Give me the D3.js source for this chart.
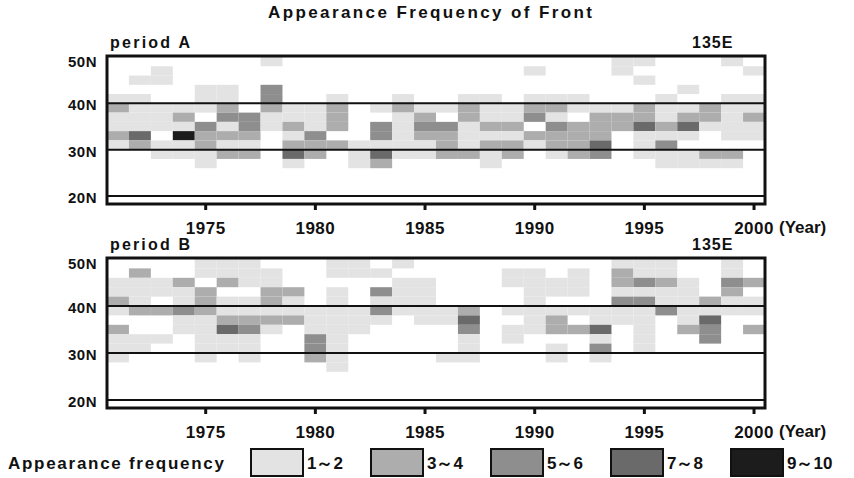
<!DOCTYPE html>
<html lang="en">
<head>
    <meta charset="UTF-8">
    <title>Appearance Frequency of Front</title>
    <style>
        body {
            margin: 0;
            background: #fff;
        }

        svg text {
            font-family: "Liberation Sans", Arial, sans-serif;
            font-weight: bold;
            fill: #111;
        }

        .frame {
            fill: none;
            stroke: #111;
            stroke-width: 3;
        }

        .lat-line {
            stroke: #111;
            stroke-width: 2;
        }
    </style>
</head>
<body>
    <svg id="chart" width="854" height="478"></svg>

    <script src="https://d3js.org/d3.v7.min.js"></script>
    <script>
        // years on the x axis
        const years = [1971, 1972, 1973, 1974, 1975, 1976, 1977, 1978, 1979, 1980,
            1981, 1982, 1983, 1984, 1985, 1986, 1987, 1988, 1989, 1990,
            1991, 1992, 1993, 1994, 1995, 1996, 1997, 1998, 1999, 2000];
        const yearTicks = [1975, 1980, 1985, 1990, 1995, 2000];
        const latTicks = [20, 30, 40, 50];
        // top edge of each 2-degree latitude band
        const latBands = [50, 48, 46, 44, 42, 40, 38, 36, 34, 32, 30, 28];

        // class per cell: 0 none, 1 = 1~2, 2 = 3~4, 3 = 5~6, 4 = 7~8, 5 = 9~10
        const periodA = [
            [0, 0, 0, 0, 0, 0, 0, 1, 0, 0, 0, 0, 0, 0, 0, 0, 0, 0, 0, 0, 0, 0, 0, 1, 1, 0, 0, 0, 1, 0],
            [0, 0, 1, 0, 0, 0, 0, 0, 0, 0, 0, 0, 0, 0, 0, 0, 0, 0, 0, 1, 0, 0, 0, 1, 0, 0, 0, 0, 0, 1],
            [0, 1, 1, 0, 0, 0, 0, 0, 0, 0, 0, 0, 0, 0, 0, 0, 0, 0, 0, 0, 0, 0, 0, 0, 1, 0, 0, 0, 0, 0],
            [0, 0, 0, 0, 1, 1, 0, 3, 0, 0, 0, 0, 0, 0, 0, 0, 0, 0, 0, 0, 0, 0, 0, 0, 0, 0, 1, 0, 0, 0],
            [1, 1, 0, 0, 1, 1, 0, 3, 0, 0, 1, 0, 0, 1, 0, 0, 1, 1, 0, 1, 1, 1, 0, 0, 0, 1, 0, 0, 1, 1],
            [2, 1, 1, 1, 1, 2, 0, 2, 1, 1, 2, 0, 1, 2, 1, 1, 2, 1, 1, 2, 2, 1, 1, 1, 2, 1, 1, 2, 1, 1],
            [1, 1, 1, 2, 0, 3, 3, 1, 1, 1, 2, 0, 0, 1, 2, 0, 2, 1, 1, 3, 1, 0, 2, 2, 2, 1, 2, 2, 1, 2],
            [1, 1, 1, 1, 3, 1, 3, 1, 2, 1, 2, 0, 3, 1, 3, 3, 1, 2, 2, 0, 3, 2, 2, 2, 4, 2, 4, 1, 1, 1],
            [2, 4, 0, 5, 2, 2, 2, 0, 1, 3, 0, 0, 3, 1, 2, 2, 1, 1, 1, 2, 2, 2, 2, 0, 1, 1, 1, 0, 1, 1],
            [1, 2, 1, 1, 2, 1, 1, 0, 2, 2, 2, 1, 1, 1, 1, 2, 1, 2, 2, 1, 2, 2, 4, 0, 1, 3, 0, 0, 0, 0],
            [0, 0, 1, 1, 1, 2, 2, 0, 4, 2, 0, 1, 4, 1, 1, 2, 2, 1, 2, 0, 1, 2, 3, 0, 1, 1, 1, 2, 2, 0],
            [0, 0, 0, 0, 1, 0, 0, 0, 1, 0, 0, 1, 2, 0, 0, 0, 0, 1, 0, 0, 0, 0, 0, 0, 0, 1, 1, 1, 1, 0]
        ];

        const periodB = [
            [0, 0, 0, 0, 1, 1, 1, 0, 0, 0, 1, 1, 0, 1, 0, 0, 0, 0, 0, 0, 0, 0, 0, 1, 1, 1, 0, 0, 1, 0],
            [0, 2, 0, 0, 1, 1, 1, 1, 0, 0, 1, 1, 1, 0, 0, 0, 0, 0, 1, 1, 0, 1, 0, 2, 1, 1, 0, 0, 1, 0],
            [1, 1, 1, 2, 0, 2, 1, 1, 0, 0, 0, 0, 0, 1, 1, 0, 0, 0, 1, 1, 1, 1, 0, 2, 3, 2, 1, 0, 3, 2],
            [1, 1, 1, 1, 2, 0, 0, 2, 2, 0, 1, 0, 3, 1, 1, 0, 0, 0, 0, 1, 1, 1, 0, 1, 1, 1, 1, 0, 2, 0],
            [2, 1, 0, 1, 2, 1, 1, 2, 1, 0, 1, 0, 1, 1, 1, 0, 0, 0, 0, 1, 0, 0, 0, 3, 3, 1, 1, 2, 1, 1],
            [1, 2, 2, 3, 2, 1, 1, 1, 1, 1, 1, 1, 3, 1, 1, 1, 2, 0, 1, 1, 1, 1, 1, 1, 1, 3, 1, 1, 1, 1],
            [0, 0, 0, 1, 1, 2, 2, 2, 2, 1, 1, 1, 1, 0, 1, 1, 4, 0, 0, 1, 2, 0, 1, 1, 1, 0, 1, 4, 0, 0],
            [2, 0, 0, 1, 1, 4, 3, 1, 0, 1, 1, 1, 0, 0, 0, 0, 3, 0, 1, 1, 2, 2, 4, 0, 1, 0, 2, 3, 0, 2],
            [1, 1, 1, 0, 1, 1, 1, 0, 0, 3, 1, 0, 0, 0, 0, 0, 1, 0, 1, 0, 0, 0, 1, 0, 1, 0, 0, 3, 0, 0],
            [1, 1, 0, 0, 1, 1, 1, 0, 0, 3, 1, 0, 0, 0, 0, 0, 1, 0, 0, 0, 1, 0, 3, 0, 1, 0, 0, 0, 0, 0],
            [1, 0, 0, 0, 1, 0, 1, 0, 0, 2, 1, 0, 0, 0, 0, 1, 1, 0, 0, 0, 1, 0, 1, 0, 0, 0, 0, 0, 0, 0],
            [0, 0, 0, 0, 0, 0, 0, 0, 0, 0, 1, 0, 0, 0, 0, 0, 0, 0, 0, 0, 0, 0, 0, 0, 0, 0, 0, 0, 0, 0]
        ];

        const legendLabels = ["1～2", "3～4", "5～6", "7～8", "9～10"];
        const classColors = ["#e3e3e3", "#adadad", "#8e8e8e", "#6a6a6a", "#1c1c1c"];

        const svg = d3.select("#chart");
        svg.append("rect").attr("width", 854).attr("height", 478).attr("fill", "#fff");

        const x = d3.scaleBand().domain(years).range([107, 765]);
        const color = d3.scaleOrdinal().domain([1, 2, 3, 4, 5]).range(classColors);

        // title
        svg.append("text")
            .attr("x", 268).attr("y", 18)
            .attr("font-size", 17)
            .attr("textLength", 324).attr("lengthAdjust", "spacing")
            .text("Appearance Frequency of Front");

        function drawPanel(grid, name, lat50, lat20, labelY) {
            const y = d3.scaleLinear().domain([20, 50]).range([lat20, lat50]);
            const g = svg.append("g");

            // cells
            grid.forEach((row, r) => {
                const top = latBands[r];
                row.forEach((v, i) => {
                    if (!v) return;
                    g.append("rect")
                        .attr("x", x(years[i]))
                        .attr("y", y(top))
                        .attr("width", x.bandwidth())
                        .attr("height", y(top - 2) - y(top))
                        .attr("fill", color(v));
                });
            });

            // latitude lines
            [40, 30, 20].forEach(lat => {
                g.append("line")
                    .attr("class", "lat-line")
                    .attr("x1", x.range()[0]).attr("x2", x.range()[1])
                    .attr("y1", y(lat)).attr("y2", y(lat));
            });

            // frame
            g.append("rect")
                .attr("class", "frame")
                .attr("x", x.range()[0])
                .attr("y", y(50) - 1)
                .attr("width", x.range()[1] - x.range()[0])
                .attr("height", y(20) + 8 - y(50) + 1);

            // x axis ticks
            const xAxis = d3.axisBottom(x)
                .tickValues(yearTicks)
                .tickSize(5)
                .tickSizeOuter(0)
                .tickPadding(12);
            const ax = g.append("g")
                .attr("transform", `translate(0,${y(20) + 9})`)
                .call(xAxis);
            ax.select(".domain").remove();
            ax.selectAll(".tick line").attr("stroke", "#111").attr("stroke-width", 3);
            ax.selectAll(".tick text")
                .attr("font-size", 17)
                .attr("letter-spacing", 0.5)
                .attr("fill", "#111")
                .style("font-family", "'Liberation Sans', Arial, sans-serif");
            g.append("text")
                .attr("x", 779).attr("y", y(20) + 37)
                .attr("font-size", 17)
                .text("(Year)");

            // y labels
            latTicks.forEach(lat => {
                g.append("text")
                    .attr("x", 97)
                    .attr("y", y(lat) + (lat === 50 ? 6 : 3))
                    .attr("text-anchor", "end")
                    .attr("dominant-baseline", "middle")
                    .attr("font-size", 15)
                    .attr("letter-spacing", 0.5)
                    .text(lat + "N");
            });

            // panel headings
            g.append("text")
                .attr("x", 110).attr("y", labelY)
                .attr("font-size", 16)
                .attr("textLength", 80).attr("lengthAdjust", "spacing")
                .text(name);
            g.append("text")
                .attr("x", 692).attr("y", labelY)
                .attr("font-size", 16)
                .attr("letter-spacing", 1)
                .text("135E");
        }

        drawPanel(periodA, "period A", 57, 196, 48);
        drawPanel(periodB, "period B", 259, 400, 250);

        // legend
        const legend = svg.append("g");
        legend.append("text")
            .attr("x", 8).attr("y", 469)
            .attr("font-size", 17)
            .attr("font-weight", "normal")
            .attr("textLength", 216).attr("lengthAdjust", "spacing")
            .text("Appearance frequency");

        legendLabels.forEach((lab, i) => {
            const lx = 251 + i * 120;
            legend.append("rect")
                .attr("x", lx).attr("y", 449)
                .attr("width", 52).attr("height", 27)
                .attr("fill", classColors[i])
                .attr("stroke", "#111")
                .attr("stroke-width", 2);
            legend.append("text")
                .attr("x", lx + 56).attr("y", 469)
                .attr("font-size", 17)
                .attr("font-weight", "normal")
                .text(lab);
        });
    </script>
</body>
</html>
